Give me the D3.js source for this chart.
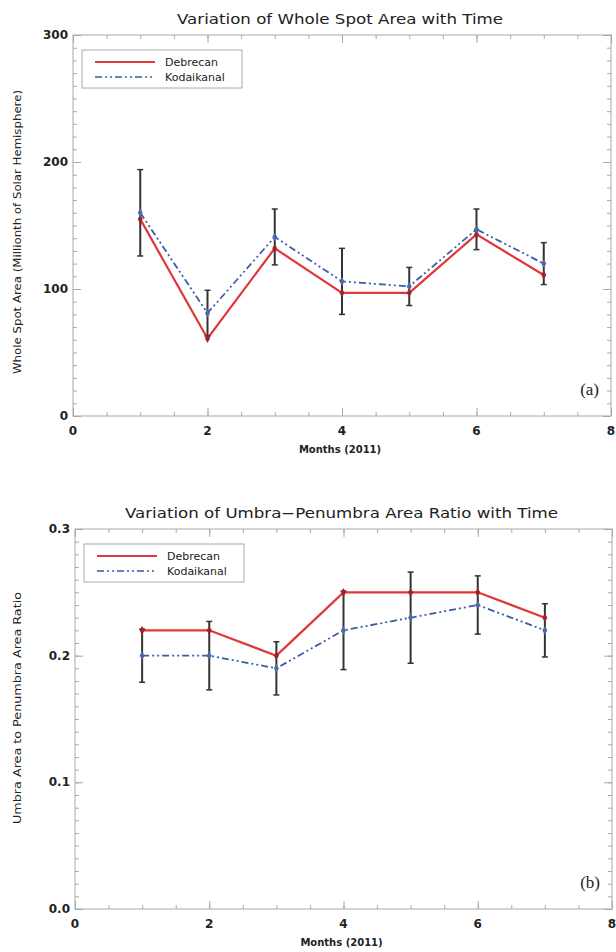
<!DOCTYPE html>
<html>
<head>
<meta charset="utf-8">
<script src="https://cdn.jsdelivr.net/npm/d3@7"></script>
<style>
  html, body { margin: 0; padding: 0; background: #fff; }
  svg { display: block; }
  text { font-family: "DejaVu Sans", sans-serif; fill: #222; }
</style>
</head>
<body>
<div id="chart"></div>
<script>
// months of 2011 (Jan..Jul)
const months = [1, 2, 3, 4, 5, 6, 7];
const seriesNames = ['Debrecan', 'Kodaikanal'];

// panel (a): whole spot area, millionths of solar hemisphere
const areaDebrecen = [155, 61, 132, 97, 97, 143, 111];
const areaKodai = [160, 81, 141, 106, 102, 147, 120];
const areaKodaiErr = [34, 18, 22, 26, 15, 16, 16.5];

// panel (b): umbra / penumbra area ratio
const ratioDebrecen = [0.22, 0.22, 0.20, 0.25, 0.25, 0.25, 0.23];
const ratioKodai = [0.20, 0.20, 0.19, 0.22, 0.23, 0.24, 0.22];
const ratioKodaiErr = [0.021, 0.027, 0.021, 0.031, 0.036, 0.023, 0.021];

const xTicks = [0, 2, 4, 6, 8];
const areaTicks = [0, 100, 200, 300];
const ratioTicks = [0, 0.1, 0.2, 0.3];

const W = 616, H = 952;
const svg = d3.select('#chart').append('svg')
  .attr('width', W).attr('height', H);

function drawPanel(p) {
  const x = d3.scaleLinear().domain([0, 8]).range([p.left, p.right]);
  const y = d3.scaleLinear().domain([0, p.yMax]).range([p.bottom, p.top]);
  const g = svg.append('g');

  // title
  g.append('text')
    .attr('x', (p.left + p.right) / 2 - 2).attr('y', p.top - 11)
    .attr('text-anchor', 'middle')
    .attr('font-size', '14px')
    .attr('textLength', p.titleLen).attr('lengthAdjust', 'spacingAndGlyphs')
    .text(p.title);

  // frame with IDL-style inward ticks on all four sides
  const frame = g.append('g');
  frame.append('rect')
    .attr('x', p.left).attr('y', p.top)
    .attr('width', p.right - p.left).attr('height', p.bottom - p.top)
    .attr('fill', 'none').attr('stroke', '#a8a8a8');

  const xMinor = d3.range(0, 8.01, 0.5);
  const yMinor = d3.range(0, p.yMax + p.yMinorStep / 2, p.yMinorStep);

  const addTicks = (axis, tr) => {
    const a = frame.append('g').attr('transform', tr).call(axis);
    a.select('.domain').remove();
    a.selectAll('text').remove();
    a.selectAll('line').attr('stroke', '#a8a8a8');
  };
  addTicks(d3.axisBottom(x).tickValues(xMinor).tickSize(-4), `translate(0,${p.bottom})`);
  addTicks(d3.axisBottom(x).tickValues(xTicks).tickSize(-8), `translate(0,${p.bottom})`);
  addTicks(d3.axisTop(x).tickValues(xMinor).tickSize(-4), `translate(0,${p.top})`);
  addTicks(d3.axisTop(x).tickValues(xTicks).tickSize(-8), `translate(0,${p.top})`);
  addTicks(d3.axisLeft(y).tickValues(yMinor).tickSize(-4), `translate(${p.left},0)`);
  addTicks(d3.axisLeft(y).tickValues(p.yTicks).tickSize(-8), `translate(${p.left},0)`);
  addTicks(d3.axisRight(y).tickValues(yMinor).tickSize(-4), `translate(${p.right},0)`);
  addTicks(d3.axisRight(y).tickValues(p.yTicks).tickSize(-8), `translate(${p.right},0)`);

  // tick labels
  g.selectAll('.xlab').data(xTicks).enter().append('text')
    .attr('x', d => x(d)).attr('y', p.bottom + 19)
    .attr('text-anchor', 'middle').attr('font-size', '12px').attr('font-weight', 'bold')
    .attr('fill', '#333')
    .text(d => d);
  g.selectAll('.ylab').data(p.yTicks).enter().append('text')
    .attr('x', p.left - 5).attr('y', d => y(d) + 4)
    .attr('text-anchor', 'end').attr('font-size', '12px').attr('font-weight', 'bold')
    .attr('fill', '#333')
    .text(p.yFormat);

  g.append('text')
    .attr('x', (p.left + p.right) / 2 - 2).attr('y', p.bottom + 37)
    .attr('text-anchor', 'middle').attr('font-size', '10px').attr('font-weight', 'bold')
    .text('Months (2011)');

  g.append('text')
    .attr('transform', `translate(21,${p.yLabelCy}) rotate(-90)`)
    .attr('text-anchor', 'middle').attr('font-size', '10px')
    .attr('textLength', p.yLabelLen).attr('lengthAdjust', 'spacingAndGlyphs')
    .text(p.yLabel);

  g.append('text')
    .attr('x', p.right - 12).attr('y', p.bottom - 21)
    .attr('text-anchor', 'end')
    .style('font-family', '"Liberation Serif", "DejaVu Serif", serif')
    .attr('font-size', '17px').attr('fill', '#333')
    .text(p.panel);

  const line = d3.line().x((d, i) => x(months[i])).y(d => y(d));

  // Debrecen line
  g.append('path').datum(p.red)
    .attr('d', line).attr('fill', 'none')
    .attr('stroke', '#e0373b').attr('stroke-width', 2.2);
  // Kodaikanal line
  g.append('path').datum(p.blue)
    .attr('d', line).attr('fill', 'none')
    .attr('stroke', '#3b5ca8').attr('stroke-width', 1.8)
    .attr('stroke-dasharray', '7,3,2,3,2,3');

  // error bars on Kodaikanal values
  const eb = g.selectAll('.eb').data(months).enter().append('g');
  eb.append('line')
    .attr('x1', d => x(d)).attr('x2', d => x(d))
    .attr('y1', (d, i) => y(p.blue[i] - p.err[i]))
    .attr('y2', (d, i) => y(p.blue[i] + p.err[i]))
    .attr('stroke', '#333').attr('stroke-width', 2);
  [-1, 1].forEach(s => {
    eb.append('line')
      .attr('x1', d => x(d) - 3).attr('x2', d => x(d) + 3)
      .attr('y1', (d, i) => y(p.blue[i] + s * p.err[i]))
      .attr('y2', (d, i) => y(p.blue[i] + s * p.err[i]))
      .attr('stroke', '#333').attr('stroke-width', 1.5);
  });

  const sym = d3.symbol().type(d3.symbolDiamond).size(22);
  g.selectAll('.mr').data(p.red).enter().append('path')
    .attr('d', sym)
    .attr('transform', (d, i) => `translate(${x(months[i])},${y(d)})`)
    .attr('fill', '#a0222a');
  g.selectAll('.mb').data(p.blue).enter().append('path')
    .attr('d', sym)
    .attr('transform', (d, i) => `translate(${x(months[i])},${y(d)})`)
    .attr('fill', '#4a6aa8');

  // legend
  const lg = g.append('g');
  const lx = p.left + 9, ly = p.top + 15;
  lg.append('rect')
    .attr('x', lx).attr('y', ly).attr('width', 160).attr('height', 38)
    .attr('fill', '#fff').attr('stroke', '#aaa');
  lg.append('line')
    .attr('x1', lx + 13).attr('x2', lx + 73).attr('y1', ly + 12).attr('y2', ly + 12)
    .attr('stroke', '#e0373b').attr('stroke-width', 2);
  lg.append('line')
    .attr('x1', lx + 13).attr('x2', lx + 73).attr('y1', ly + 27).attr('y2', ly + 27)
    .attr('stroke', '#3b5ca8').attr('stroke-width', 1.5)
    .attr('stroke-dasharray', '7,3,2,3,2,3');
  lg.selectAll('.lt').data(seriesNames).enter().append('text')
    .attr('x', lx + 83).attr('y', (d, i) => ly + 16 + i * 15)
    .attr('font-size', '11px')
    .text(d => d);
}

drawPanel({
  left: 73, right: 611, top: 35, bottom: 416,
  yMax: 300, yTicks: areaTicks, yMinorStep: 10, yFormat: d => d,
  title: 'Variation of Whole Spot Area with Time', titleLen: 326,
  yLabel: 'Whole Spot Area (Millionth of Solar Hemisphere)', yLabelCy: 232, yLabelLen: 284,
  panel: '(a)',
  red: areaDebrecen, blue: areaKodai, err: areaKodaiErr
});

drawPanel({
  left: 75, right: 612, top: 529, bottom: 909,
  yMax: 0.3, yTicks: ratioTicks, yMinorStep: 0.01, yFormat: d3.format('.1f'),
  title: 'Variation of Umbra\u2212Penumbra Area Ratio with Time', titleLen: 433,
  yLabel: 'Umbra Area to Penumbra Area Ratio', yLabelCy: 708, yLabelLen: 232,
  panel: '(b)',
  red: ratioDebrecen, blue: ratioKodai, err: ratioKodaiErr
});
</script>
</body>
</html>
